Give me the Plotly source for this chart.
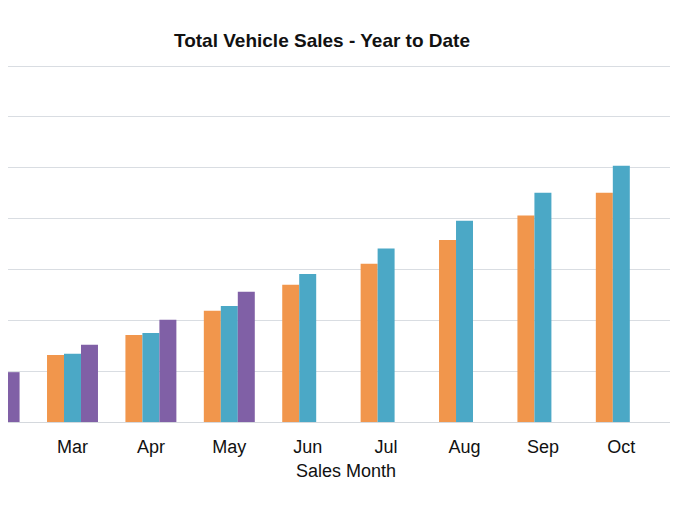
import plotly.graph_objects as go

months = ["Jan", "Feb", "Mar", "Apr", "May", "Jun", "Jul", "Aug", "Sep", "Oct", "Nov", "Dec"]
series_names = ["2018", "2019", "2020"]
sales_2018 = [3.6, 7.5, 13.2, 17.1, 21.9, 27.0, 31.1, 35.8, 40.6, 45.1, 49.8, 54.5]
sales_2019 = [4.0, 8.7, 13.4, 17.5, 22.8, 29.1, 34.1, 39.6, 45.1, 50.4, 55.3, 60.0]
sales_2020 = [4.7, 9.8, 15.2, 20.1, 25.6, None, None, None, None, None, None, None]
colors = ["#F1964C", "#4BA8C6", "#8060A6"]

idx = list(range(len(months)))
fig = go.Figure()
for name, vals, c in zip(series_names, [sales_2018, sales_2019, sales_2020], colors):
    fig.add_trace(go.Bar(x=idx, y=vals, name=name, marker=dict(color=c, line=dict(width=0))))

font_family = "Liberation Sans, Arial, sans-serif"

W, H = 670, 485
fig.add_annotation(x=338 / W, y=-0.137, xref="paper", yref="paper", text="Sales Month",
                   showarrow=False, yanchor="middle", font=dict(size=18, color="#111", family=font_family))

fig.update_layout(
    width=W, height=H,
    margin=dict(l=0, r=0, t=56, b=71),
    paper_bgcolor="white", plot_bgcolor="white",
    barmode="group", bargap=0.35, bargroupgap=0,
    showlegend=False,
    title=dict(text="<b>Total Vehicle Sales - Year to Date</b>", x=314 / W, xanchor="center",
               y=1 - 32 / H, yanchor="middle", font=dict(size=19, color="#111", family=font_family)),
    font=dict(family=font_family, color="#111"),
)
fig.update_xaxes(range=[1.1773, 9.723], tickmode="array", tickvals=idx, ticktext=months,
                 showgrid=False, showline=True, linecolor="#d4d8dd", linewidth=1,
                 tickfont=dict(size=18, color="#111"), ticks="", ticklabelstandoff=8)
fig.update_yaxes(range=[0, 70.4], dtick=10, showgrid=True, gridcolor="#d9dde2", gridwidth=1,
                 showticklabels=False, zeroline=False, ticks="")

fig.write_html("out.html")
